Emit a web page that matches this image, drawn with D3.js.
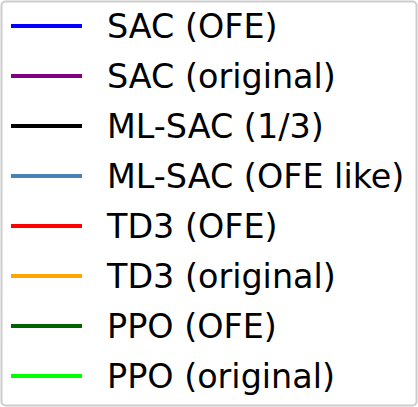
<!DOCTYPE html>
<html>
<head>
<meta charset="utf-8">
<script src="https://cdn.jsdelivr.net/npm/d3@7"></script>
<style>
  body { margin: 0; background: #fff; }
</style>
</head>
<body>
<div id="vis"></div>
<script>
var width = 418;
var height = 407;

// legend entries
var labels = ["SAC (OFE)", "SAC (original)", "ML-SAC (1/3)", "ML-SAC (OFE like)",
              "TD3 (OFE)", "TD3 (original)", "PPO (OFE)", "PPO (original)"];
var colors = ["#0000ff", "#800080", "#000000", "#4682b4",
              "#ff0000", "#ffa500", "#006400", "#00ff00"];

var svg = d3.select("#vis").append("svg")
  .attr("width", width)
  .attr("height", height);

// legend frame
svg.append("rect")
  .attr("x", 1.5)
  .attr("y", 1.5)
  .attr("width", width - 3)
  .attr("height", height - 3)
  .attr("rx", 4)
  .attr("fill", "#fff")
  .attr("stroke", "#cccccc")
  .attr("stroke-width", 2);

var yScale = d3.scalePoint()
  .domain(labels)
  .range([26, 376]);

var color = d3.scaleOrdinal().domain(labels).range(colors);

var rows = svg.selectAll(".entry")
  .data(labels)
  .enter().append("g")
  .attr("class", "entry")
  .attr("transform", function (d) { return "translate(0," + yScale(d) + ")"; });

rows.append("line")
  .attr("x1", 11)
  .attr("x2", 82)
  .attr("y1", 0)
  .attr("y2", 0)
  .attr("stroke", function (d) { return color(d); })
  .attr("stroke-width", 4);

rows.append("text")
  .attr("x", 107)
  .attr("y", 0)
  .attr("dy", "0.36em")
  .style("font-family", "DejaVu Sans")
  .style("font-size", "33.4px")
  .attr("fill", "#000")
  .text(function (d) { return d; });
</script>
</body>
</html>
